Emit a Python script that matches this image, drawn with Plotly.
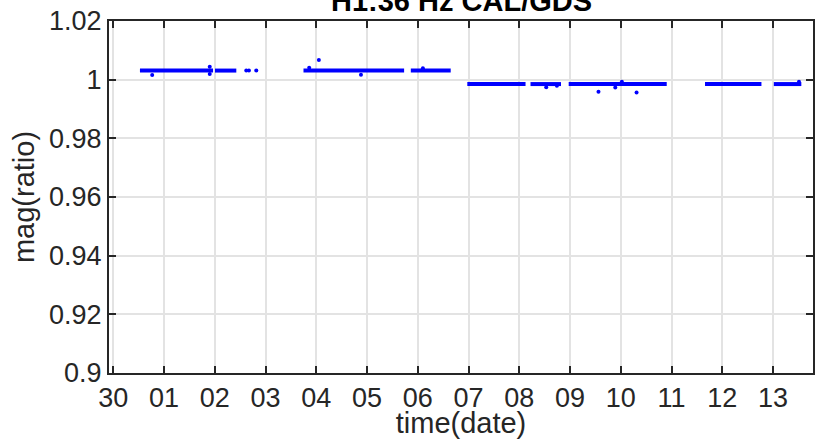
import plotly.graph_objects as go

# Continuous data segments (start, end, level)
seg_start = ["2016-11-30 12:36", "2016-12-02 00:05", "2016-12-03 17:56", "2016-12-05 20:41",
             "2016-12-06 23:24", "2016-12-08 05:17", "2016-12-08 23:20", "2016-12-11 15:48",
             "2016-12-13 00:20"]
seg_end = ["2016-12-01 23:10", "2016-12-02 10:10", "2016-12-05 17:31", "2016-12-06 15:33",
           "2016-12-08 02:56", "2016-12-08 19:42", "2016-12-10 21:42", "2016-12-12 18:29",
           "2016-12-13 13:21"]
seg_level = [1.0031, 1.0031, 1.0031, 1.0031, 0.9985, 0.9985, 0.9985, 0.9985, 0.9985]

# Isolated samples / outliers
pt_time = ["2016-12-02 14:53", "2016-12-02 16:08", "2016-12-02 19:37",
           "2016-11-30 18:23", "2016-12-01 21:36", "2016-12-01 21:36", "2016-12-03 20:38",
           "2016-12-04 01:12", "2016-12-04 21:07", "2016-12-06 02:24",
           "2016-12-08 12:43", "2016-12-08 17:46", "2016-12-09 13:26", "2016-12-09 21:22",
           "2016-12-10 00:29", "2016-12-10 07:26", "2016-12-13 12:14"]
pt_value = [1.0031, 1.0031, 1.0031,
            1.0016, 1.0044, 1.0019, 1.0041,
            1.0067, 1.0017, 1.0039,
            0.9974, 0.9979, 0.9959, 0.9973,
            0.9993, 0.9956, 0.9993]

y_ticks = [0.9, 0.92, 0.94, 0.96, 0.98, 1.0, 1.02]

BLUE = "#0000ff"
DARK = "#262626"
GRID = "#e3e3e3"
FONT = "Liberation Sans"

seg_x, seg_y = [], []
for s, e, v in zip(seg_start, seg_end, seg_level):
    seg_x += [s, e, None]
    seg_y += [v, v, None]

fig = go.Figure()
fig.add_trace(go.Scatter(x=seg_x, y=seg_y, mode="lines",
                         line=dict(color=BLUE, width=4), hoverinfo="skip",
                         showlegend=False))
fig.add_trace(go.Scatter(x=pt_time, y=pt_value, mode="markers",
                         marker=dict(color=BLUE, size=4), showlegend=False))

axis_common = dict(showline=True, linecolor=DARK, linewidth=2, mirror="ticks",
                   ticks="inside", ticklen=7, tickwidth=2, tickcolor=DARK,
                   showgrid=True, gridcolor=GRID, gridwidth=2, zeroline=False,
                   tickfont=dict(family=FONT, size=27, color=DARK))

fig.update_xaxes(type="date", range=["2016-11-29 21:58", "2016-12-13 18:52"],
                 tick0="2016-11-30", dtick=86400000, tickformat="%d",
                 title=dict(text="time(date)", font=dict(family=FONT, size=29, color=DARK),
                            standoff=0),
                 **axis_common)
fig.update_yaxes(range=[0.9, 1.02], tickvals=y_ticks,
                 title=dict(text="mag(ratio)", font=dict(family=FONT, size=29, color=DARK),
                            standoff=6),
                 **axis_common)

fig.add_annotation(text="<b>H1:36 Hz CAL/GDS</b>", xref="paper", yref="paper",
                   x=0.5, y=1, xanchor="center", yanchor="bottom", yshift=2,
                   showarrow=False, font=dict(family=FONT, size=29, color="#000000"))

fig.update_layout(width=815, height=439, paper_bgcolor="white", plot_bgcolor="white",
                  margin=dict(l=109, r=0, t=21, b=66))

fig.write_html("out.html", config={"displayModeBar": False},
               post_script="document.body.style.margin='0';document.body.style.overflow='hidden';")
